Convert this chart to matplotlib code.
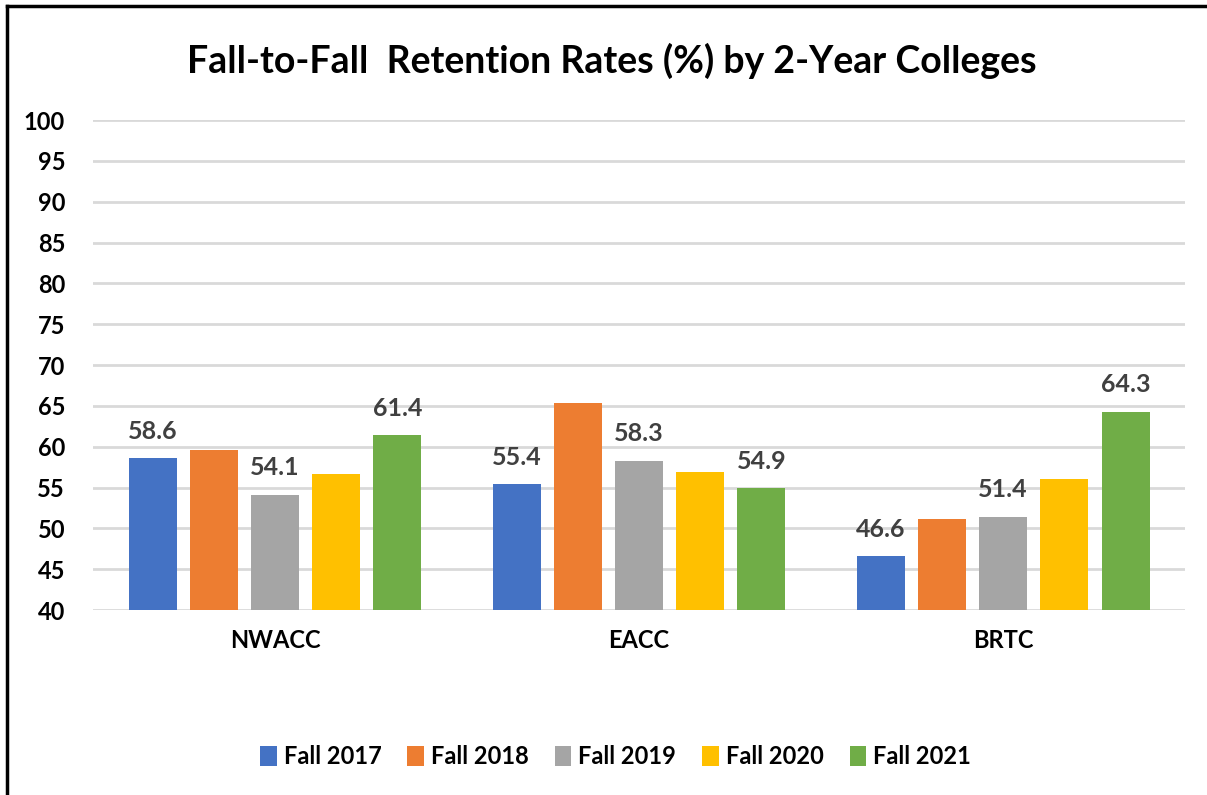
import matplotlib.pyplot as plt
import numpy as np
from matplotlib.lines import Line2D
from matplotlib.patches import Patch

plt.rcParams['font.family'] = ['Lato', 'DejaVu Sans']

colleges = ['NWACC', 'EACC', 'BRTC']
years = ['Fall 2017', 'Fall 2018', 'Fall 2019', 'Fall 2020', 'Fall 2021']
fall_2017 = [58.6, 55.4, 46.6]
fall_2018 = [59.6, 65.4, 51.1]
fall_2019 = [54.1, 58.3, 51.4]
fall_2020 = [56.7, 56.9, 56.0]
fall_2021 = [61.4, 54.9, 64.3]
series = [fall_2017, fall_2018, fall_2019, fall_2020, fall_2021]
colors = ['#4472c4', '#ed7d31', '#a5a5a5', '#ffc000', '#70ad47']
labelled = [True, False, True, False, True]  # only some series carry labels

fig = plt.figure(figsize=(12.07, 7.95), dpi=100)
ax = fig.add_axes([0.077, 0.2327, 0.905, 0.6163])

x = np.arange(len(colleges))
step = 0.168
width = 0.132
for i, (vals, col) in enumerate(zip(series, colors)):
    xs = x + (i - 2) * step
    bars = ax.bar(xs, vals, width=width, color=col, zorder=3, label=years[i])
    if labelled[i]:
        for b, v in zip(bars, vals):
            ax.text(b.get_x() + b.get_width() / 2, v + 1.9, f'{v:.1f}',
                    ha='center', va='bottom', fontsize=18, fontweight='bold',
                    color='#404040')

ax.set_ylim(40, 100)
ax.set_xlim(-0.5, 2.5)
ax.set_yticks(range(40, 101, 5))
ax.yaxis.grid(True, color='#d9d9d9', linewidth=2, zorder=0)
ax.set_xticks(x)
ax.set_xticklabels(colleges)
for s in ax.spines.values():
    s.set_visible(False)
ax.tick_params(length=0)
ax.tick_params(axis='y', pad=20, labelsize=17)
ax.tick_params(axis='x', pad=14, labelsize=17)
for t in ax.get_xticklabels() + ax.get_yticklabels():
    t.set_fontweight('bold')

fig.text(0.507, 0.924, 'Fall-to-Fall  Retention Rates (%) by 2-Year Colleges',
         ha='center', va='center', fontsize=27, fontweight='bold')

handles = [Patch(facecolor=c) for c in colors]
fig.legend(handles, years, loc='center', bbox_to_anchor=(0.51, 0.048), ncol=5,
           frameon=False, handlelength=0.7, handleheight=0.9, handletextpad=0.3,
           columnspacing=1.1, prop={'size': 17, 'weight': 'bold'})

# frame lines at left and top
fig.add_artist(Line2D([0.006, 0.006], [0, 0.992], color='black', linewidth=2.5,
                      transform=fig.transFigure))
fig.add_artist(Line2D([0.006, 1], [0.992, 0.992], color='black', linewidth=2.5,
                      transform=fig.transFigure))

fig.savefig('out.png', dpi=100)
